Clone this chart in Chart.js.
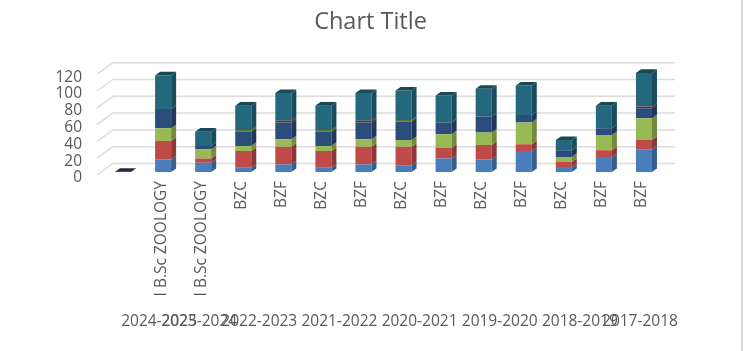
<!DOCTYPE html>
<html>
<head>
<meta charset="utf-8">
<script src="https://cdn.jsdelivr.net/npm/chart.js@4"></script>
<style>
html,body{margin:0;padding:0;background:#fff;overflow:hidden}
#wrap{width:741px;height:351px;border-right:2px solid #d9d9d9}
canvas{display:block}
</style>
</head>
<body>
<div id="wrap"><canvas id="c" width="741" height="351"></canvas></div>
<script>
const categories = ["", "I B.Sc ZOOLOGY", "I B.Sc ZOOLOGY", "BZC", "BZF", "BZC", "BZF", "BZC", "BZF", "BZC", "BZF", "BZC", "BZF", "BZF"];
const years = ["2024-2025", "2023-2024", "2022-2023", "2021-2022", "2020-2021", "2019-2020", "2018-2019", "2017-2018"];
const yearAtCategory = [1, 2, 3.5, 5.5, 7.5, 9.5, 11.5, 13];
const yTicks = [0, 20, 40, 60, 80, 100, 120];

const blueValues   = [0, 15, 11, 5, 9, 5, 9, 8, 16, 15, 25, 6, 18, 27];
const redValues    = [0, 22, 5, 20, 21, 20, 21, 22, 13, 17, 8, 6, 8, 11];
const greenValues  = [0, 15, 11, 6, 9, 6, 9, 8, 16, 15, 26, 6, 18, 26];
const navyValues   = [0, 23, 4, 17, 20, 17, 20, 22, 14, 19, 9, 8, 8, 12];
const maroonValues = [0, 0, 0, 0, 2, 0, 2, 0, 0, 0, 0, 0, 0, 2];
const oliveValues  = [0, 0, 0, 2, 0, 2, 0, 2, 0, 0, 0, 0, 0, 0];
const purpleValues = [0.2, 0, 0, 0, 0, 0, 0, 0, 0, 0, 0, 0, 0, 0];
const tealValues   = [0, 40, 17, 29, 33, 29, 33, 35, 32, 33, 35, 12, 27, 40];

const GRAY = '#595959', FONT = '"Open Sans", sans-serif';
const faces = {
  blue:   ['#4a7ebb', '#375f8e', '#3a6596'],
  red:    ['#be4b48', '#8e3836', '#983c3a'],
  green:  ['#98b954', '#728b3f', '#7a9443'],
  navy:   ['#2a4d7c', '#1f395c', '#203b5e'],
  maroon: ['#772c2a', '#59211f', '#5f2322'],
  olive:  ['#5f7530', '#475824', '#4c5e26'],
  purple: ['#2f2440', '#2f2440', '#2f2440'],
  teal:   ['#23687c', '#1a4e5d', '#184955']
};
const series = [
  ['blue', blueValues], ['red', redValues], ['green', greenValues], ['navy', navyValues],
  ['maroon', maroonValues], ['olive', oliveValues], ['purple', purpleValues], ['teal', tealValues]
];

const BAR_SHIFT_X = 4, BAR_SHIFT_Y = -3, DEPTH_X = 5, DEPTH_Y = -3.6;
const WALL_LEFT = 97, WALL_DX = 16, WALL_DY = -11.5, WALL_RIGHT = 675;

const scene3d = {
  id: 'scene3d',
  beforeDatasetsDraw(chart) {
    const ctx = chart.ctx, y = chart.scales.y;
    ctx.save();
    ctx.strokeStyle = '#dcdcdc';
    ctx.lineWidth = 1.5;
    yTicks.forEach(v => {
      const p = y.getPixelForValue(v);
      ctx.beginPath();
      ctx.moveTo(WALL_LEFT, p);
      ctx.lineTo(WALL_LEFT + WALL_DX, p + WALL_DY);
      ctx.lineTo(WALL_RIGHT, p + WALL_DY);
      ctx.stroke();
    });
    ctx.restore();
    ctx.save();
    ctx.translate(BAR_SHIFT_X, BAR_SHIFT_Y);
  },
  afterDatasetsDraw(chart) {
    const ctx = chart.ctx;
    const poly = (pts, color) => {
      ctx.fillStyle = color;
      ctx.beginPath();
      pts.forEach((q, i) => i ? ctx.lineTo(q[0], q[1]) : ctx.moveTo(q[0], q[1]));
      ctx.closePath();
      ctx.fill();
    };
    categories.forEach((_, j) => {
      let top = null;
      series.forEach(([name, vals], i) => {
        if (!vals[j]) return;
        const el = chart.getDatasetMeta(i).data[j];
        const r = el.x + el.width / 2;
        poly([[r, el.base], [r + DEPTH_X, el.base + DEPTH_Y], [r + DEPTH_X, el.y + DEPTH_Y], [r, el.y]], faces[name][1]);
        top = { el, name };
      });
      if (top) {
        const { el, name } = top;
        const l = el.x - el.width / 2, r = el.x + el.width / 2;
        poly([[l, el.y], [l + DEPTH_X, el.y + DEPTH_Y], [r + DEPTH_X, el.y + DEPTH_Y], [r, el.y]], faces[name][2]);
      }
    });
    ctx.restore();
  }
};

new Chart(document.getElementById('c'), {
  type: 'bar',
  data: {
    labels: categories,
    datasets: series.map(([name, vals]) => ({
      label: name, data: vals, backgroundColor: faces[name][0], borderWidth: 0,
      categoryPercentage: 1, barPercentage: 0.4
    }))
  },
  plugins: [scene3d],
  options: {
    responsive: false,
    animation: false,
    plugins: {
      legend: { display: false },
      tooltip: { enabled: false },
      title: {
        display: true, text: 'Chart Title', color: GRAY,
        font: { family: FONT, size: 23.5, weight: 'normal' },
        padding: { top: 8, bottom: 38 }
      }
    },
    scales: {
      y: {
        stacked: true, min: 0, max: 120,
        afterBuildTicks: s => { s.ticks = yTicks.map(v => ({ value: v })); },
        afterFit: s => { s.width = 99; },
        grid: { display: false, drawTicks: false },
        border: { display: false },
        ticks: { color: GRAY, padding: 17, labelOffset: 3, autoSkip: false, font: { family: FONT, size: 15.5 } }
      },
      rightGap: {
        type: 'linear', position: 'right',
        afterFit: s => { s.width = 81; },
        grid: { display: false, drawTicks: false },
        border: { display: false },
        ticks: { display: false }
      },
      x: {
        stacked: true,
        afterFit: s => { s.height = 130; },
        grid: { display: false, drawTicks: false },
        border: { display: false },
        ticks: { color: GRAY, padding: 6, labelOffset: 2, autoSkip: false, minRotation: 90, maxRotation: 90, font: { family: FONT, size: 15.5 } }
      },
      years: {
        type: 'linear', position: 'bottom', min: -0.5, max: 13.5, bounds: 'data', offset: false,
        afterBuildTicks: s => { s.ticks = yearAtCategory.map(v => ({ value: v })); },
        afterFit: s => { s.height = 46; },
        grid: { display: false, drawTicks: false },
        border: { display: false },
        ticks: {
          color: GRAY, padding: 7, autoSkip: false, minRotation: 0, maxRotation: 0,
          font: { family: FONT, size: 15.5 },
          callback: (v, i) => years[i]
        }
      }
    }
  }
});
</script>
</body>
</html>
